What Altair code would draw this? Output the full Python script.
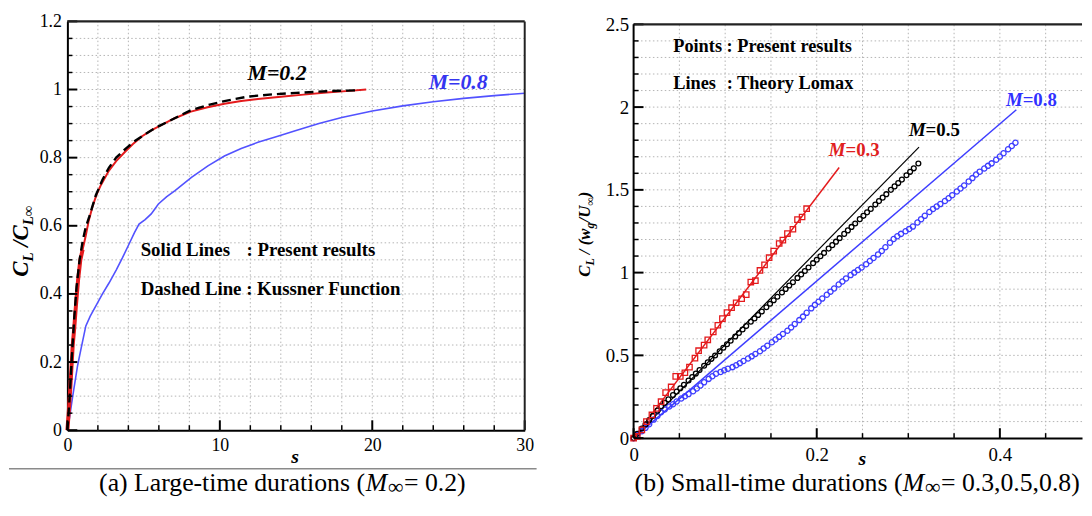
import altair as alt
import pandas as pd

SERIF = "Liberation Serif"
RED = "#e41a1c"
BLUE_A = "#5252ff"
BLUE_B = "#3d3dff"
GRID = "#b4b4b4"

# ---------------- panel (a): large-time durations ----------------
a_m02_s = [0, 0.05, 0.1, 0.2, 0.35, 0.45, 0.55, 0.7, 0.85, 1.0, 1.2, 1.4, 1.64, 1.9, 2.2, 2.7, 3.2, 3.8, 4.3, 4.9,
           5.5, 6.0, 7.0, 8.1, 9.2, 10.3, 11.4, 12.5, 14.0, 15.5, 17.0, 18.5, 19.6]
a_m02_v = [0, 0.03, 0.06, 0.13, 0.25, 0.30, 0.36, 0.44, 0.50, 0.53, 0.57, 0.615, 0.655, 0.69, 0.72, 0.76, 0.79, 0.818,
           0.84, 0.863, 0.88, 0.892, 0.915, 0.935, 0.948, 0.958, 0.966, 0.972, 0.979, 0.985, 0.991, 0.996, 1.0]
a_kus_s = [0, 0.15, 0.3, 0.45, 0.6, 0.8, 1.0, 1.2, 1.43, 1.86, 2.3, 2.73, 3.2, 3.81, 4.4, 5.0, 5.8, 6.62, 7.4, 8.14,
           9.2, 10.3, 11.8, 13.5, 15.0, 17.0, 19.2]
a_kus_v = [0, 0.10, 0.22, 0.33, 0.42, 0.50, 0.555, 0.595, 0.626, 0.689, 0.735, 0.771, 0.80, 0.826, 0.848, 0.866, 0.888,
           0.906, 0.924, 0.94, 0.954, 0.966, 0.979, 0.986, 0.99, 0.995, 0.998]
a_m08_s = [0, 0.15, 0.35, 0.67, 0.89, 1.21, 1.5, 1.86, 2.3, 2.73, 3.2, 3.6, 4.03, 4.4, 4.7, 5.1, 5.5, 5.97, 6.5, 7.06,
           8.14, 9.22, 10.3, 11.4, 12.5, 13.8, 15.0, 16.5, 18.0, 20.0, 22.0, 24.0, 26.0, 28.0, 30.0]
a_m08_v = [0, 0.04, 0.10, 0.19, 0.238, 0.306, 0.335, 0.364, 0.40, 0.432, 0.47, 0.505, 0.545, 0.58, 0.605, 0.618, 0.635,
           0.664, 0.685, 0.703, 0.742, 0.776, 0.805, 0.827, 0.845, 0.863, 0.88, 0.90, 0.918, 0.937, 0.952, 0.964,
           0.974, 0.982, 0.989]
a_x_major = [0, 10, 20, 30]
a_x_minor = [2, 4, 6, 8, 12, 14, 16, 18, 22, 24, 26, 28]
a_x_grid = [2, 4, 6, 8, 10, 12, 14, 16, 18, 20, 22, 24, 26, 28]
a_y_major = [0, 0.2, 0.4, 0.6, 0.8, 1.0, 1.2]
a_y_minor = [round(0.05 * i, 2) for i in range(1, 24) if i % 4 != 0]
a_y_grid = [round(0.05 * i, 2) for i in range(1, 24)]

# ---------------- panel (b): small-time durations ----------------
b_l03_s = [0, 0.2245]
b_l03_v = [0, 1.635]
b_l05_s = [0, 0.3117]
b_l05_v = [0, 1.758]
b_l08_s = [0, 0.418]
b_l08_v = [0, 1.984]
b_p03_s = [0.0, 0.004, 0.009, 0.014, 0.020, 0.025, 0.030, 0.035, 0.041, 0.046, 0.051, 0.056, 0.061, 0.067, 0.071,
           0.077, 0.081, 0.087, 0.092, 0.097, 0.102, 0.107, 0.112, 0.118, 0.123, 0.128, 0.133, 0.138, 0.143, 0.148,
           0.153, 0.159, 0.163, 0.168, 0.174, 0.179, 0.184, 0.189]
b_p03_v = [0.0, 0.01, 0.05, 0.10, 0.14, 0.18, 0.22, 0.275, 0.309, 0.373, 0.373, 0.395, 0.429, 0.483, 0.528, 0.562,
           0.594, 0.642, 0.682, 0.722, 0.758, 0.788, 0.818, 0.842, 0.867, 0.943, 0.951, 1.013, 1.047, 1.09, 1.13,
           1.176, 1.196, 1.236, 1.262, 1.32, 1.336, 1.386]
b_p05_s = [0.000, 0.004, 0.009, 0.013, 0.017, 0.021, 0.026, 0.030, 0.034, 0.038,
           0.043, 0.047, 0.051, 0.055, 0.060, 0.064, 0.068, 0.072, 0.077, 0.081,
           0.085, 0.089, 0.094, 0.098, 0.102, 0.106, 0.111, 0.115, 0.119, 0.123,
           0.128, 0.132, 0.136, 0.140, 0.145, 0.149, 0.153, 0.157, 0.162, 0.166,
           0.170, 0.174, 0.179, 0.183, 0.187, 0.191, 0.196, 0.200, 0.204, 0.208,
           0.213, 0.217, 0.221, 0.225, 0.230, 0.234, 0.238, 0.242, 0.247, 0.251,
           0.255, 0.259, 0.264, 0.268, 0.272, 0.276, 0.281, 0.285, 0.289, 0.293,
           0.298, 0.302, 0.306, 0.311]
b_p05_v = [0.000, 0.026, 0.058, 0.083, 0.109, 0.134, 0.166, 0.192, 0.213, 0.234,
           0.260, 0.281, 0.301, 0.322, 0.348, 0.369, 0.390, 0.411, 0.437, 0.458,
           0.479, 0.499, 0.525, 0.546, 0.567, 0.588, 0.614, 0.635, 0.656, 0.677,
           0.703, 0.723, 0.744, 0.765, 0.791, 0.812, 0.833, 0.854, 0.880, 0.901,
           0.922, 0.942, 0.968, 0.989, 1.010, 1.031, 1.057, 1.078, 1.099, 1.119,
           1.145, 1.166, 1.187, 1.208, 1.234, 1.255, 1.276, 1.297, 1.323, 1.343,
           1.364, 1.385, 1.411, 1.432, 1.453, 1.474, 1.500, 1.521, 1.541, 1.562,
           1.588, 1.609, 1.630, 1.659]
b_p08_s = [0.000, 0.004, 0.009, 0.013, 0.017, 0.022, 0.026, 0.030, 0.034, 0.039,
           0.043, 0.047, 0.052, 0.056, 0.060, 0.065, 0.069, 0.073, 0.077, 0.082,
           0.086, 0.090, 0.095, 0.099, 0.103, 0.108, 0.112, 0.116, 0.120, 0.125,
           0.129, 0.133, 0.138, 0.142, 0.146, 0.151, 0.155, 0.159, 0.163, 0.168,
           0.172, 0.176, 0.181, 0.185, 0.189, 0.194, 0.198, 0.202, 0.206, 0.211,
           0.215, 0.219, 0.224, 0.228, 0.232, 0.237, 0.241, 0.245, 0.249, 0.254,
           0.258, 0.262, 0.267, 0.271, 0.275, 0.280, 0.284, 0.288, 0.292, 0.297,
           0.301, 0.305, 0.310, 0.314, 0.318, 0.323, 0.327, 0.331, 0.335, 0.340,
           0.344, 0.348, 0.353, 0.357, 0.361, 0.366, 0.370, 0.374, 0.378, 0.383,
           0.387, 0.391, 0.396, 0.400, 0.404, 0.409, 0.413, 0.417]
b_p08_v = [0.000, 0.019, 0.042, 0.062, 0.084, 0.112, 0.134, 0.157, 0.173, 0.191,
           0.205, 0.221, 0.239, 0.253, 0.266, 0.283, 0.300, 0.318, 0.337, 0.358,
           0.374, 0.389, 0.400, 0.410, 0.419, 0.429, 0.440, 0.453, 0.466, 0.481,
           0.494, 0.508, 0.525, 0.542, 0.558, 0.579, 0.596, 0.612, 0.629, 0.649,
           0.669, 0.689, 0.713, 0.734, 0.757, 0.784, 0.805, 0.824, 0.843, 0.866,
           0.885, 0.904, 0.928, 0.946, 0.965, 0.985, 1.000, 1.016, 1.031, 1.051,
           1.070, 1.088, 1.110, 1.131, 1.153, 1.181, 1.203, 1.220, 1.234, 1.250,
           1.264, 1.278, 1.303, 1.323, 1.343, 1.366, 1.384, 1.399, 1.414, 1.433,
           1.449, 1.468, 1.490, 1.508, 1.526, 1.551, 1.571, 1.593, 1.610, 1.629,
           1.645, 1.660, 1.682, 1.701, 1.721, 1.745, 1.765, 1.785]
b_x_major = [0, 0.2, 0.4]
b_x_minor = [0.05, 0.1, 0.15, 0.25, 0.3, 0.35, 0.45]
b_x_grid = [0.05, 0.1, 0.15, 0.2, 0.25, 0.3, 0.35, 0.4, 0.45]
b_y_major = [0, 0.5, 1.0, 1.5, 2.0, 2.5]
b_y_minor = [round(0.1 * i, 1) for i in range(1, 25) if i % 5 != 0]
b_y_grid = [round(0.1 * i, 1) for i in range(1, 25)]


def T(text, x, y, size, color="black", weight="normal", style="normal", align="left", angle=0,
      baseline="alphabetic"):
    kw = dict(align=align, baseline=baseline, font=SERIF, fontSize=size, fontWeight=weight,
              fontStyle=style, color=color)
    if angle:
        kw["angle"] = angle
    return alt.Chart(pd.DataFrame({"t": [text]})).mark_text(**kw).encode(
        x=alt.value(x), y=alt.value(y), text="t:N")


def make_axis(values, size, pad, domain=True):
    return alt.Axis(values=values, format="~r", grid=False, ticks=False, domain=domain,
                    domainColor="black", domainWidth=2, labelFont=SERIF, labelFontSize=size,
                    labelColor="black", labelPadding=pad, labelFlush=False, labelOverlap=False,
                    title=None)


def grid_layers(XS, YS, AX, AY, xgrid, ygrid, H, top):
    return [
        alt.Chart(pd.DataFrame({"s": xgrid})).mark_rule(color=GRID, strokeWidth=1, strokeDash=[1.5, 2.5])
        .encode(x=alt.X("s:Q", scale=XS, axis=AX), y=alt.value(H), y2=alt.value(top)),
        alt.Chart(pd.DataFrame({"v": ygrid})).mark_rule(color=GRID, strokeWidth=1, strokeDash=[1.5, 2.5])
        .encode(y=alt.Y("v:Q", scale=YS, axis=AY)),
    ]


def tick_layers(XS, YS, AX, AY, H, top, xmaj, xmin, ymaj, ymin, xmax, ymax, right_border, left_border):
    L = []
    L.append(alt.Chart(pd.DataFrame({"s": xmaj})).mark_rule(color="black", strokeWidth=2)
             .encode(x=alt.X("s:Q", scale=XS, axis=AX), y=alt.value(H), y2=alt.value(H - 10)))
    L.append(alt.Chart(pd.DataFrame({"s": xmin})).mark_rule(color="black", strokeWidth=1.5)
             .encode(x=alt.X("s:Q", scale=XS, axis=AX), y=alt.value(H), y2=alt.value(H - 5)))
    L.append(alt.Chart(pd.DataFrame({"v": ymaj})).mark_rule(color="black", strokeWidth=2)
             .encode(y=alt.Y("v:Q", scale=YS, axis=AY), x=alt.value(0), x2=alt.value(10)))
    L.append(alt.Chart(pd.DataFrame({"v": ymin})).mark_rule(color="black", strokeWidth=1.5)
             .encode(y=alt.Y("v:Q", scale=YS, axis=AY), x=alt.value(0), x2=alt.value(5)))
    L.append(alt.Chart(pd.DataFrame({"v": [ymax]})).mark_rule(color="#222222", strokeWidth=2.2)
             .encode(y=alt.Y("v:Q", scale=YS, axis=AY)))
    if right_border:
        L.append(alt.Chart(pd.DataFrame({"s": [xmax]})).mark_rule(color="#222222", strokeWidth=2)
                 .encode(x=alt.X("s:Q", scale=XS, axis=AX), y=alt.value(H), y2=alt.value(top)))
    if left_border:
        L.append(alt.Chart(pd.DataFrame({"s": [0]})).mark_rule(color="black", strokeWidth=2)
                 .encode(x=alt.X("s:Q", scale=XS, axis=AX), y=alt.value(H), y2=alt.value(top)))
    return L


def line(s, v, XS, YS, AX, AY, color, width, dash=None):
    kw = dict(color=color, strokeWidth=width)
    if dash:
        kw["strokeDash"] = dash
    return alt.Chart(pd.DataFrame({"s": s, "v": v})).mark_line(**kw).encode(
        x=alt.X("s:Q", scale=XS, axis=AX), y=alt.Y("v:Q", scale=YS, axis=AY))


def pts(s, v, XS, YS, AX, AY, color, shape, size, sw=1.3):
    return alt.Chart(pd.DataFrame({"s": s, "v": v})).mark_point(
        shape=shape, filled=False, color=color, size=size, strokeWidth=sw, opacity=1).encode(
        x=alt.X("s:Q", scale=XS, axis=AX), y=alt.Y("v:Q", scale=YS, axis=AY))


def bound_marker(x, y):
    return alt.Chart(pd.DataFrame({"k": [0]})).mark_rule(opacity=0, strokeWidth=0).encode(
        x=alt.value(x), y=alt.value(y), y2=alt.value(0))


CAP_Y = 474  # caption baseline (plot coords, both panels share origin row)

# ---------- panel (a) ----------
WA, HA = 462, 413
XA = alt.Scale(domain=[0, 30], nice=False, zero=False)
YA = alt.Scale(domain=[0, 1.2], nice=False, zero=False)
AXA = make_axis(a_x_major, 18, 7)
AYA = make_axis(a_y_major, 18, 6)

la = grid_layers(XA, YA, AXA, AYA, a_x_grid, a_y_grid, HA, 0)
la += [
    line(a_m08_s, a_m08_v, XA, YA, AXA, AYA, BLUE_A, 1.6),
    line(a_m02_s, a_m02_v, XA, YA, AXA, AYA, RED, 2),
    alt.Chart(pd.DataFrame({"s": a_m02_s, "v": a_m02_v})).transform_filter("datum.s <= 1.05")
       .mark_line(color=RED, strokeWidth=4).encode(x=alt.X("s:Q", scale=XA, axis=AXA), y=alt.Y("v:Q", scale=YA, axis=AYA)),
    line(a_kus_s, a_kus_v, XA, YA, AXA, AYA, "black", 2.4, [9, 5]),
]
la += tick_layers(XA, YA, AXA, AYA, HA, 0, a_x_major, a_x_minor, a_y_major, a_y_minor, 30, 1.2, True, False)
la += [
    bound_marker(-60, -11),
    T("M=0.2", 182, 59, 22, weight="bold", style="italic"),
    T("M=0.8", 365, 68, 22, color="#3535f0", weight="bold", style="italic"),
    T("Solid Lines", 74, 237, 19, weight="bold"),
    T(": Present results", 181, 237, 19, weight="bold"),
    T("Dashed Line : Kussner Function", 74, 276, 19, weight="bold"),
    T("s", 230, 440, 20, weight="bold", style="italic", align="center", baseline="middle"),
    # y title  C_L / C_L∞ (rotated)
    T("C", -40, 258, 23, weight="bold", style="italic", angle=270),
    T("L", -35, 242.7, 15, weight="bold", style="italic", angle=270),
    T("/", -40, 227.7, 23, weight="bold", style="italic", angle=270),
    T("C", -40, 221.3, 23, weight="bold", style="italic", angle=270),
    T("L∞", -35, 206, 15, weight="bold", style="italic", angle=270),
    # caption
    alt.Chart(pd.DataFrame({"k": [0]})).mark_rule(color="#8a8a8a", strokeWidth=1.5).encode(
        x=alt.value(-59), x2=alt.value(474), y=alt.value(452)),
    T("(a) Large-time durations (", 32, CAP_Y, 26),
    T("M", 301.3, CAP_Y, 26, style="italic"),
    T("∞", 324, CAP_Y + 3, 22),
    T("= 0.2)", 340, CAP_Y, 26),
]
panel_a = alt.layer(*la).properties(width=WA, height=HA)

# ---------- panel (b) ----------
OFF = 3  # plot frame of panel (b) starts 3 px lower than panel (a)
WB, HB = 453, 418 + OFF
XB = alt.Scale(domain=[0, 453 / 925], nice=False, zero=False)
YB = alt.Scale(domain=[0, 2.5 * HB / 418], nice=False, zero=False)
AXB = make_axis(b_x_major, 19, 8)
AYB = make_axis(b_y_major, 19, 5, domain=False)

lb = grid_layers(XB, YB, AXB, AYB, b_x_grid, b_y_grid, HB, OFF)
lb += [
    line(b_l08_s, b_l08_v, XB, YB, AXB, AYB, BLUE_B, 1.5),
    line(b_l05_s, b_l05_v, XB, YB, AXB, AYB, "black", 1.2),
    line(b_l03_s, b_l03_v, XB, YB, AXB, AYB, RED, 1.5),
    pts(b_p08_s, b_p08_v, XB, YB, AXB, AYB, BLUE_B, "circle", 28),
    pts(b_p05_s, b_p05_v, XB, YB, AXB, AYB, "black", "circle", 24),
    pts(b_p03_s, b_p03_v, XB, YB, AXB, AYB, RED, "square", 30),
]
lb += tick_layers(XB, YB, AXB, AYB, HB, OFF, b_x_major, b_x_minor, b_y_major, b_y_minor, 453 / 925, 2.5, False, True)
lb += [
    bound_marker(-60, -11),
    T("Points : Present results", 40, 28 + OFF, 18.5, weight="bold"),
    T("Lines", 40, 65 + OFF, 18.5, weight="bold"),
    T(": Theory Lomax", 94, 65 + OFF, 18.5, weight="bold"),
    T("M", 214, 133 + OFF, 19, color="#e02020", weight="bold", style="italic", align="right"),
    T("=0.3", 214, 133 + OFF, 19, color="#e02020", weight="bold"),
    T("M", 295, 113 + OFF, 19, weight="bold", style="italic", align="right"),
    T("=0.5", 295, 113 + OFF, 19, weight="bold"),
    T("M", 393, 82 + OFF, 19, color="#3030ff", weight="bold", style="italic", align="right"),
    T("=0.8", 393, 82 + OFF, 19, color="#3030ff", weight="bold"),
    T("s", 231, 439 + OFF, 20, weight="bold", style="italic", align="center", baseline="middle"),
    # y title C_L / (w_g/U_∞)
    T("C", -44, 255 + OFF, 17, weight="bold", style="italic", angle=270),
    T("L", -40, 243.7 + OFF, 12, weight="bold", style="italic", angle=270),
    T("/", -44, 232.2 + OFF, 17, weight="bold", style="italic", angle=270),
    T("(", -44, 223.2 + OFF, 17, weight="bold", style="italic", angle=270),
    T("w", -44, 217.5 + OFF, 17, weight="bold", style="italic", angle=270),
    T("g", -40, 206.2 + OFF, 12, weight="bold", style="italic", angle=270),
    T("/", -44, 200.2 + OFF, 17, weight="bold", style="italic", angle=270),
    T("U", -44, 195.5 + OFF, 17, weight="bold", style="italic", angle=270),
    T("∞", -40, 183.2 + OFF, 12, angle=270),
    T(")", -44, 174.6 + OFF, 17, weight="bold", style="italic", angle=270),
    # caption
    T("(b) Small-time durations (", 1, CAP_Y, 26),
    T("M", 271.8, CAP_Y, 26, style="italic"),
    T("∞", 294.5, CAP_Y + 3, 22),
    T("= 0.3,0.5,0.8)", 310.5, CAP_Y, 26),
]
panel_b = alt.layer(*lb).properties(width=WB, height=HB)

chart = alt.hconcat(panel_a, panel_b, spacing=37).configure_view(strokeWidth=0).properties(
    padding=0, background="white")

chart.save("out.html", embed_options={"renderer": "svg", "actions": False})
